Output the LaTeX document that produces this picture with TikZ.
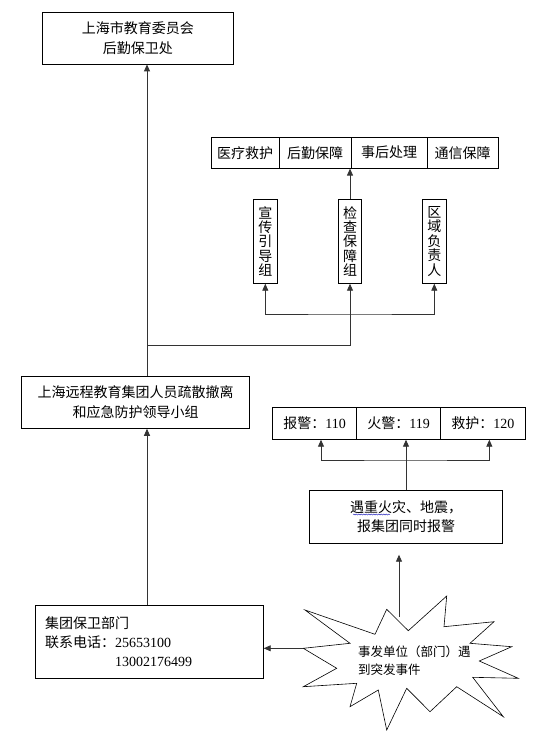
\documentclass[tikz,border=0pt]{standalone}
\usepackage{fontspec}
\setmainfont{Liberation Serif}
\newfontfamily\cjk{Noto Sans CJK SC}
\usetikzlibrary{arrows.meta,decorations.pathmorphing}
\newcommand\numtxt[1]{{\rmfamily #1}}
\begin{document}
\begin{tikzpicture}[x=1pt,y=-1pt,
  box/.style={draw=black,line width=0.8pt,inner sep=0pt,align=center,
    font=\fontsize{14pt}{20pt}\selectfont\cjk},
  vbox/.style={box,minimum height=84pt,font=\fontsize{14pt}{14.4pt}\selectfont\cjk},
  conn/.style={draw=black!80,line width=0.85pt},
  arr/.style={conn,-{Triangle[width=6pt,length=7pt]}},
  arrboth/.style={conn,{Triangle[width=6pt,length=7pt]}-{Triangle[width=6pt,length=7pt]}}]
\useasboundingbox (0,0) rectangle (546,738);
% boxes
\node[box,minimum width=191pt,minimum height=51.3pt] (top) at (137.8,38.35) {上海市教育委员会\\后勤保卫处};
\node[box,minimum width=68pt,minimum height=31pt] (c1) at (245,152.7) {医疗救护};
\node[box,minimum width=72pt,minimum height=31pt] (c2) at (315,152.7) {后勤保障};
\node[box,minimum width=76pt,minimum height=31pt] (c3) at (389,152.7) {事后处理};
\node[box,minimum width=71pt,minimum height=31pt] (c4) at (462.5,152.7) {通信保障};
\node[vbox,minimum width=24pt] (g1) at (265.3,241.3) {宣\\传\\引\\导\\组};
\node[vbox,minimum width=23.4pt] (g2) at (350,241.3) {检\\查\\保\\障\\组};
\node[vbox,minimum width=23.3pt] (g3) at (434.3,241.3) {区\\域\\负\\责\\人};
\node[box,minimum width=227.6pt,minimum height=52.3pt] (main) at (135.5,402.2) {上海远程教育集团人员疏散撤离\\和应急防护领导小组};
\node[box,minimum width=84pt,minimum height=32pt] (p1) at (314.7,423.3) {报警：\numtxt{110}};
\node[box,minimum width=84pt,minimum height=32pt] (p2) at (398.7,423.3) {火警：\numtxt{119}};
\node[box,minimum width=84.3pt,minimum height=32pt] (p3) at (482.85,423.3) {救护：\numtxt{120}};
\node[box,minimum width=193.4pt,minimum height=52.6pt,font=\fontsize{14pt}{19pt}\selectfont\cjk] (fire) at (406,517) {遇重火灾、地震，\\报集团同时报警};
\node[box,minimum width=227.6pt,minimum height=72.3pt,text width=209pt,align=left,font=\fontsize{14pt}{19.2pt}\selectfont\cjk] (sec) at (149.5,641.85)
  {集团保卫部门\\\makebox[70pt][l]{联系电话：}\numtxt{25653100}\\\hspace*{70pt}\numtxt{13002176499}};
% star
\draw[line width=0.6pt] (305,610) -- (375,634.3) -- (386.7,609.3) -- (408.3,630.7) -- (446.7,596) -- (444,626.7)
  -- (494,621.7) -- (470,643.3) -- (511.7,646.7) -- (479.3,661) -- (518.3,678.3) -- (472.7,677.3)
  -- (503.3,716.7) -- (456.7,686.7) -- (430,711.7) -- (406.7,688.3) -- (386.7,730) -- (378.3,690)
  -- (350,706.7) -- (356.7,683.3) -- (303.3,686.7) -- (336.7,668.3) -- (303.3,648.3) -- (350,643.3) -- cycle;
\node[anchor=west,align=left,inner sep=0pt,font=\fontsize{12.5pt}{18.3pt}\selectfont\cjk] (stxt) at (358,661) {事发单位（部门）遇\\到突发事件};
\coordinate (sL) at (303.3,648.3);
\coordinate (sT) at (399,616.5);
% wavy underline
\draw[blue!70!black,line width=0.4pt,decorate,decoration={snake,amplitude=0.5pt,segment length=2.5pt}] (353,514.5) -- (390,514.5);
% connectors
\coordinate (jnc) at (147,345.7);
\coordinate (hb) at (350,314);
\coordinate (hb2) at (405.7,460);
\draw[conn] (main.north -| jnc) -- (jnc);
\draw[arr] (jnc) -- (jnc |- top.south);
\draw[arr] (jnc) -| (g2.south);
\draw[arr] (g2.north) -- (g2.north |- c2.south);
\draw[arrboth] (g1.south) |- (hb) -| (g3.south);
\draw[arr] (sec.north -| jnc) -- (main.south -| jnc);
\draw[arr] (fire.north) -- (fire.north |- p2.south);
\draw[arrboth] ([xshift=6.3pt]p1.south) |- (hb2) -| ([xshift=6.5pt]p3.south);
\draw[arr] (sL) -- (sL -| sec.east);
\draw[arr,shorten >=11pt] (sT) -- (sT |- fire.south);
\end{tikzpicture}
\end{document}
